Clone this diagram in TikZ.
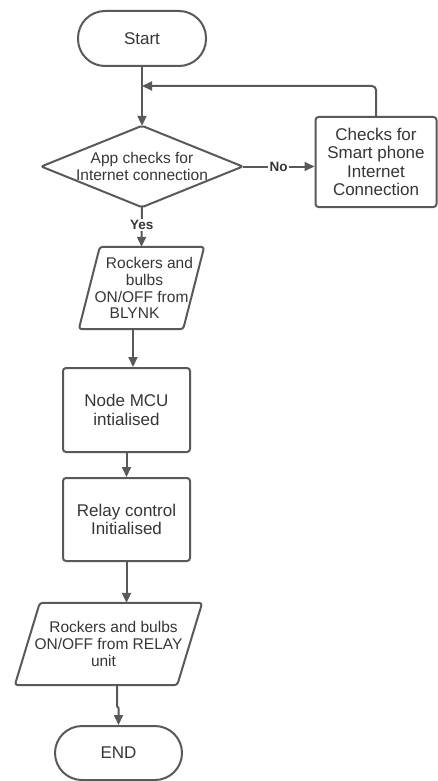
\documentclass[tikz,border=0pt]{standalone}
\usepackage{fontspec}
\setmainfont{Liberation Sans}
\usetikzlibrary{arrows.meta}
\definecolor{ink}{HTML}{363636}
\definecolor{edge}{HTML}{595959}
\tikzset{
  base/.style={draw=edge, line width=2pt, fill=white, text=ink, align=center, inner sep=0pt},
  proc/.style={base, rounded corners=3pt, font=\fontsize{17}{18.5}\selectfont},
  term/.style={proc, rounded corners=27pt},
  frame/.style={draw=none, text=ink, align=center, inner sep=0pt, font=\fontsize{15.5}{16.8}\selectfont},
  outline/.style={draw=edge, line width=2pt, rounded corners=3pt, line join=round},
  arr/.style={draw=edge, line width=2pt, -{Triangle[length=10pt,width=9pt]}},
  lbl/.style={fill=white, text=ink, font=\bfseries\fontsize{13.5}{14}\selectfont, inner sep=1.5pt},
}
\begin{document}
\begin{tikzpicture}[x=1pt,y=-1pt]
\useasboundingbox (0,0) rectangle (438,781);

% terminals and process boxes
\node[term, minimum width=128pt, minimum height=55pt] (start) at (142,38.5) {Start};
\node[proc, minimum width=121pt, minimum height=90pt] (right) at (376,162) {Checks for\\Smart phone\\Internet\\Connection};
\node[proc, minimum width=127pt, minimum height=84pt] (mcu) at (126.5,410) {Node MCU\\intialised};
\node[proc, minimum width=127pt, minimum height=83pt] (relay) at (126.5,519.5) {Relay control\\Initialised};
\node[term, minimum width=127pt, minimum height=54pt] (end) at (118.5,753) {END};

% decision
\node[frame, minimum width=201pt, minimum height=81pt] (dec) at (142,166.5) {App checks for\\Internet connection};
\draw[outline, rounded corners=2pt] (dec.north) -- (dec.east) -- (dec.south) -- (dec.west) -- cycle;

% input/output parallelograms
\node[frame, minimum width=125pt, minimum height=82pt] (p1) at (141.5,288)
  {\hspace*{16pt}Rockers and\\\hspace*{6pt}bulbs\\ON/OFF from\hspace*{3pt}\\BLYNK\hspace*{14pt}};
\draw[outline] ([xshift=21pt]p1.north west) -- (p1.north east) -- ([xshift=-21pt]p1.south east) -- (p1.south west) -- cycle;

\node[frame, minimum width=187pt, minimum height=82pt] (p2) at (108.5,644)
  {\hspace*{10pt}Rockers and bulbs\\ON/OFF from RELAY\\unit\hspace*{10pt}};
\draw[outline] ([xshift=25pt]p2.north west) -- (p2.north east) -- ([xshift=-25pt]p2.south east) -- (p2.south west) -- cycle;

% connectors
\coordinate (merge) at (142,86);
\draw[arr] (start.south) -- (dec.north);
\draw[arr] (dec.east) -- (dec.east -| right.west) node[lbl, pos=0.5] (lno) {No};
\draw[arr, rounded corners=4pt] (right.north) |- (merge);
\draw[arr] (dec.south) -- (p1.north) node[lbl, pos=0.45] (lyes) {Yes};
\draw[arr] ([xshift=-8.5pt]p1.south) -- ([xshift=-8.5pt]p1.south |- mcu.north);
\draw[arr] (mcu.south) -- (relay.north);
\draw[arr] (relay.south) -- (relay.south |- p2.north);
\draw[arr] ([xshift=8.5pt]p2.south) -- ++(0,21) -- ([yshift=17pt]end.north) -- (end.north);
\end{tikzpicture}
\end{document}
